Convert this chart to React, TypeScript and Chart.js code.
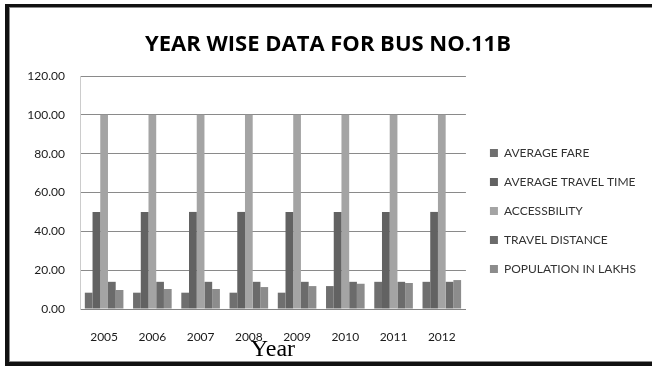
import React, { useEffect, useRef } from "react";
import { Chart, registerables } from "chart.js";

Chart.register(...registerables);

// Year-wise figures for bus route 11B
const years = ["2005", "2006", "2007", "2008", "2009", "2010", "2011", "2012"];
const averageFare = [8.4, 8.4, 8.4, 8.4, 8.4, 11.8, 14, 14];
const averageTravelTime = [50, 50, 50, 50, 50, 50, 50, 50];
const accessibility = [100, 100, 100, 100, 100, 100, 100, 100];
const travelDistance = [14, 14, 14, 14, 14, 14, 14, 14];
const populationInLakhs = [9.8, 10.3, 10.3, 11.3, 11.8, 13.0, 13.4, 14.9];

const yMin = 0;
const yMax = 120;
const yStep = 20;

const SANS = "Lato, 'Open Sans', sans-serif";

export default function App() {
  const canvasRef = useRef<HTMLCanvasElement | null>(null);

  useEffect(() => {
    const canvas = canvasRef.current;
    if (!canvas) return;

    const series = [
      { label: "AVERAGE FARE", data: averageFare, color: "#6f6f6f" },
      { label: "AVERAGE TRAVEL TIME", data: averageTravelTime, color: "#626262" },
      { label: "ACCESSBILITY", data: accessibility, color: "#a4a4a4" },
      { label: "TRAVEL DISTANCE", data: travelDistance, color: "#6b6b6b" },
      { label: "POPULATION IN LAKHS", data: populationInLakhs, color: "#8c8c8c" },
    ];

    const chart = new Chart(canvas, {
      type: "bar",
      data: {
        labels: years,
        datasets: series.map((s) => ({
          label: s.label,
          data: s.data,
          backgroundColor: s.color,
          borderWidth: 0,
          categoryPercentage: 0.8,
          barPercentage: 1.0,
        })),
      },
      options: {
        animation: false,
        responsive: true,
        maintainAspectRatio: false,
        layout: { padding: { left: 10, right: 6, top: 0, bottom: 0 } },
        plugins: {
          title: {
            display: true,
            text: "YEAR WISE DATA FOR BUS NO.11B",
            color: "#000000",
            font: { family: "'Open Sans', Lato, sans-serif", size: 22, weight: "bold" },
            padding: { top: 32, bottom: 17.6 },
          },
          legend: {
            position: "right",
            fullSize: false,
            maxWidth: 220,
            title: {
              display: true,
              text: " ",
              font: { family: SANS, size: 12 },
              padding: { top: 22.6, bottom: 0 },
            },
            labels: {
              boxWidth: 8,
              boxHeight: 8,
              padding: 17,
              color: "#333333",
              font: { family: SANS, size: 12 },
            },
          },
          tooltip: { enabled: false },
        },
        scales: {
          x: {
            grid: { display: false, drawTicks: false },
            border: { display: true, color: "#858585", width: 1 },
            ticks: {
              color: "#1a1a1a",
              padding: 21,
              font: { family: SANS, size: 12 },
            },
            title: {
              display: true,
              text: "Year",
              color: "#000000",
              font: { family: "'Liberation Serif', 'Times New Roman', serif", size: 24 },
              padding: { top: 0, bottom: 2 },
            },
            afterFit: (scale: any) => {
              scale.height = 57;
            },
          },
          y: {
            min: yMin,
            max: yMax,
            grid: { color: "#8a8a8a", lineWidth: 1, drawTicks: false },
            border: { display: true, color: "#cccccc", width: 1 },
            ticks: {
              stepSize: yStep,
              color: "#1a1a1a",
              padding: 15,
              font: { family: SANS, size: 12 },
              callback: (v: any) => Number(v).toFixed(2),
            },
            afterFit: (scale: any) => {
              scale.width = 70;
            },
          },
          gap: {
            type: "linear",
            position: "right",
            display: true,
            grid: { display: false },
            border: { display: false },
            ticks: { display: false },
            afterFit: (scale: any) => {
              scale.width = 7;
            },
          },
        },
      },
    });

    return () => chart.destroy();
  }, []);

  return (
    <div
      style={{
        position: "fixed",
        left: 0,
        top: 0,
        width: 652,
        height: 366,
        background: "#ffffff",
        overflow: "hidden",
      }}
    >
      <div style={{ position: "absolute", left: 0, top: 0, width: 652, height: 366 }}>
        <canvas ref={canvasRef} />
      </div>
      <div
        style={{
          position: "absolute",
          left: 5,
          top: 4,
          width: 700,
          height: 362,
          boxSizing: "border-box",
          borderLeft: "4px solid #111111",
          borderTop: "3px solid #111111",
          borderBottom: "4px solid #111111",
          boxShadow: "inset 1px 1px 0 #8a8a8a, inset 0 -1px 0 #8a8a8a",
          pointerEvents: "none",
        }}
      />
    </div>
  );
}
